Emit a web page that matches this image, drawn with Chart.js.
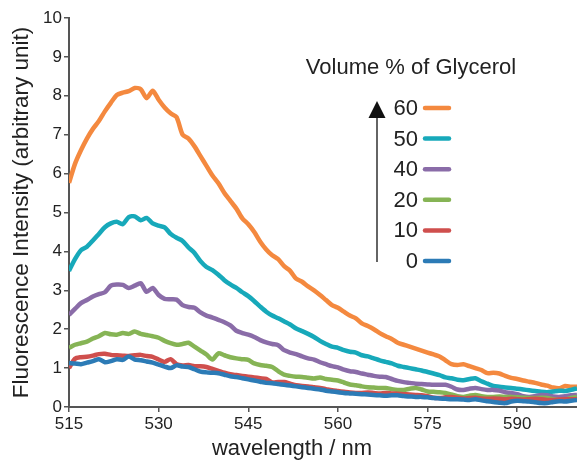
<!DOCTYPE html>
<html>
<head>
<meta charset="utf-8">
<script src="https://cdn.jsdelivr.net/npm/chart.js@4"></script>
<style>
  html, body { margin: 0; padding: 0; background: #fff; }
  #wrap { width: 577px; height: 462px; }
</style>
</head>
<body>
<div id="wrap"><canvas id="c" width="577" height="462"></canvas></div>
<script>
const wavelengthStart = 515;
const xTickLabels = [515, 530, 545, 560, 575, 590];
const yTickLabels = [0, 1, 2, 3, 4, 5, 6, 7, 8, 9, 10];
const seriesLabels = ["60", "50", "40", "20", "10", "0"];
const legendTitle = "Volume % of Glycerol";
const xTitle = "wavelength / nm";
const yTitle = "Fluorescence Intensity (arbitrary unit)";

const glycerol60 = [5.76,6.25,6.6,6.9,7.15,7.35,7.6,7.82,8.02,8.08,8.12,8.2,8.17,7.94,8.13,7.9,7.7,7.55,7.45,7.0,6.9,6.7,6.45,6.2,5.95,5.75,5.5,5.3,5.1,4.85,4.7,4.5,4.25,4.05,3.9,3.8,3.62,3.5,3.3,3.22,3.1,3.0,2.88,2.75,2.62,2.55,2.45,2.35,2.28,2.15,2.08,2.0,1.9,1.82,1.75,1.65,1.6,1.55,1.5,1.45,1.4,1.35,1.3,1.2,1.1,1.08,1.1,1.05,1.0,0.95,0.87,0.88,0.86,0.8,0.75,0.72,0.68,0.65,0.62,0.58,0.55,0.5,0.48,0.54,0.52,0.52];
const glycerol50 = [3.5,3.8,4.03,4.12,4.28,4.45,4.62,4.72,4.76,4.7,4.88,4.9,4.8,4.86,4.72,4.66,4.62,4.45,4.35,4.27,4.1,3.96,3.75,3.6,3.52,3.4,3.26,3.15,3.06,2.95,2.85,2.72,2.58,2.45,2.35,2.28,2.2,2.12,2.02,1.95,1.88,1.8,1.7,1.62,1.55,1.52,1.46,1.42,1.4,1.33,1.3,1.25,1.2,1.16,1.12,1.06,1.03,1.0,0.97,0.94,0.9,0.86,0.82,0.76,0.74,0.7,0.69,0.72,0.74,0.66,0.6,0.54,0.52,0.5,0.49,0.47,0.45,0.43,0.41,0.39,0.38,0.4,0.42,0.41,0.44,0.48];
const glycerol40 = [2.37,2.52,2.67,2.75,2.84,2.9,2.95,3.12,3.15,3.14,3.06,3.12,3.18,2.96,3.06,2.88,2.78,2.77,2.76,2.62,2.57,2.55,2.43,2.35,2.3,2.24,2.18,2.1,1.96,1.9,1.86,1.8,1.72,1.66,1.62,1.59,1.46,1.4,1.36,1.3,1.25,1.22,1.15,1.1,1.05,1.02,0.96,0.92,0.9,0.86,0.83,0.8,0.78,0.77,0.72,0.67,0.64,0.62,0.6,0.59,0.58,0.57,0.57,0.57,0.52,0.45,0.44,0.47,0.49,0.46,0.44,0.44,0.42,0.38,0.36,0.33,0.28,0.26,0.28,0.31,0.3,0.27,0.26,0.28,0.3,0.31];
const glycerol20 = [1.52,1.6,1.64,1.68,1.76,1.82,1.9,1.87,1.86,1.9,1.88,1.94,1.88,1.85,1.82,1.78,1.7,1.64,1.6,1.62,1.65,1.55,1.45,1.35,1.22,1.38,1.33,1.28,1.25,1.23,1.21,1.12,1.08,1.06,1.03,0.92,0.83,0.8,0.78,0.77,0.75,0.73,0.76,0.72,0.7,0.68,0.63,0.58,0.56,0.53,0.51,0.5,0.49,0.49,0.46,0.44,0.44,0.47,0.49,0.45,0.4,0.39,0.38,0.36,0.32,0.28,0.26,0.29,0.31,0.28,0.26,0.26,0.27,0.26,0.26,0.25,0.24,0.23,0.23,0.24,0.23,0.2,0.18,0.19,0.23,0.26];
const glycerol10 = [1.0,1.24,1.28,1.29,1.32,1.36,1.37,1.34,1.33,1.32,1.31,1.33,1.34,1.31,1.29,1.22,1.16,1.23,1.1,1.07,1.08,1.05,1.05,1.03,0.98,0.93,0.88,0.84,0.82,0.8,0.78,0.76,0.74,0.72,0.63,0.64,0.64,0.6,0.56,0.54,0.53,0.51,0.49,0.46,0.43,0.41,0.39,0.37,0.36,0.36,0.37,0.36,0.35,0.36,0.35,0.34,0.33,0.32,0.31,0.3,0.28,0.24,0.23,0.25,0.26,0.24,0.22,0.23,0.24,0.22,0.21,0.22,0.21,0.2,0.21,0.2,0.19,0.2,0.21,0.2,0.18,0.18,0.19,0.2,0.2,0.2];
const glycerol0 = [1.13,1.12,1.1,1.14,1.18,1.23,1.15,1.18,1.23,1.21,1.3,1.22,1.2,1.17,1.14,1.09,1.04,1.0,1.07,1.04,1.03,0.97,0.91,0.89,0.88,0.87,0.83,0.79,0.77,0.74,0.71,0.68,0.65,0.62,0.61,0.59,0.57,0.55,0.53,0.51,0.49,0.47,0.45,0.42,0.4,0.38,0.36,0.35,0.34,0.33,0.32,0.31,0.3,0.29,0.3,0.3,0.28,0.27,0.26,0.26,0.25,0.23,0.22,0.21,0.2,0.2,0.19,0.18,0.2,0.17,0.15,0.13,0.11,0.1,0.14,0.16,0.15,0.14,0.12,0.1,0.1,0.13,0.15,0.14,0.16,0.18];

const seriesValues = [glycerol60, glycerol50, glycerol40, glycerol20, glycerol10, glycerol0];
const seriesColors = ["#F4893F", "#17A9BA", "#8A6CA8", "#86B455", "#CF4F4D", "#2C7BB6"];

const FONT = '"Liberation Sans", Arial, sans-serif';
const TEXT = '#222222';
const AXIS = '#555555';

function toPoints(vals) {
  return vals.map((v, i) => ({ x: wavelengthStart + i, y: v }));
}

const datasets = seriesValues.map((vals, i) => ({
  label: seriesLabels[i],
  data: toPoints(vals),
  borderColor: seriesColors[i],
  backgroundColor: seriesColors[i],
  borderWidth: 4.5,
  pointRadius: 0,
  tension: 0.25,
  fill: false,
  order: seriesValues.length - i
}));

const overlay = {
  id: 'overlay',
  afterDraw(chart) {
    const ctx = chart.ctx;
    ctx.save();
    // x-axis title
    ctx.fillStyle = TEXT;
    ctx.font = '22px ' + FONT;
    ctx.textAlign = 'center';
    ctx.textBaseline = 'middle';
    ctx.fillText(xTitle, 292, 449);
    // legend title
    ctx.font = '22px ' + FONT;
    ctx.fillText(legendTitle, 411, 68);
    // arrow
    ctx.strokeStyle = '#111';
    ctx.fillStyle = '#111';
    ctx.lineWidth = 1.3;
    ctx.beginPath();
    ctx.moveTo(377, 262);
    ctx.lineTo(377, 112);
    ctx.stroke();
    ctx.beginPath();
    ctx.moveTo(377, 101);
    ctx.lineTo(368.5, 118);
    ctx.lineTo(385.5, 118);
    ctx.closePath();
    ctx.fill();
    // legend entries
    ctx.font = '22px ' + FONT;
    ctx.textAlign = 'right';
    chart.data.datasets.forEach((ds, i) => {
      const y = 108 + i * 30.6;
      ctx.fillStyle = TEXT;
      ctx.fillText(ds.label, 418, y + 1);
      ctx.strokeStyle = ds.borderColor;
      ctx.lineWidth = 4.5;
      ctx.lineCap = 'round';
      ctx.beginPath();
      ctx.moveTo(425, y);
      ctx.lineTo(449, y);
      ctx.stroke();
    });
    ctx.restore();
  }
};

new Chart(document.getElementById('c'), {
  type: 'line',
  data: { datasets },
  plugins: [overlay],
  options: {
    responsive: false,
    animation: false,
    events: [],
    layout: { padding: { top: 18, right: 0, bottom: 0, left: 0 } },
    plugins: { legend: { display: false }, tooltip: { enabled: false }, title: { display: false } },
    scales: {
      x: {
        type: 'linear',
        min: 515,
        max: 600,
        afterBuildTicks(scale) { scale.ticks = xTickLabels.map(v => ({ value: v })); },
        afterFit(scale) { scale.height = 55; },
        border: { display: true, color: AXIS, width: 2 },
        grid: { display: true, drawOnChartArea: false, drawTicks: true, tickLength: 5, color: AXIS, lineWidth: 1.5 },
        ticks: { color: TEXT, font: { family: FONT, size: 17 }, padding: 2, maxRotation: 0, autoSkip: false }
      },
      y: {
        min: 0,
        max: 10,
        afterBuildTicks(scale) { scale.ticks = yTickLabels.map(v => ({ value: v })); },
        afterFit(scale) { scale.width = 69; },
        border: { display: true, color: AXIS, width: 2 },
        grid: { display: true, drawOnChartArea: false, drawTicks: true, tickLength: 5, color: AXIS, lineWidth: 1.5 },
        ticks: { color: TEXT, font: { family: FONT, size: 17 }, padding: 2 },
        title: { display: true, text: yTitle, color: TEXT, font: { family: FONT, size: 22.5 }, padding: { top: 8, bottom: 0 } }
      }
    }
  }
});
</script>
</body>
</html>
